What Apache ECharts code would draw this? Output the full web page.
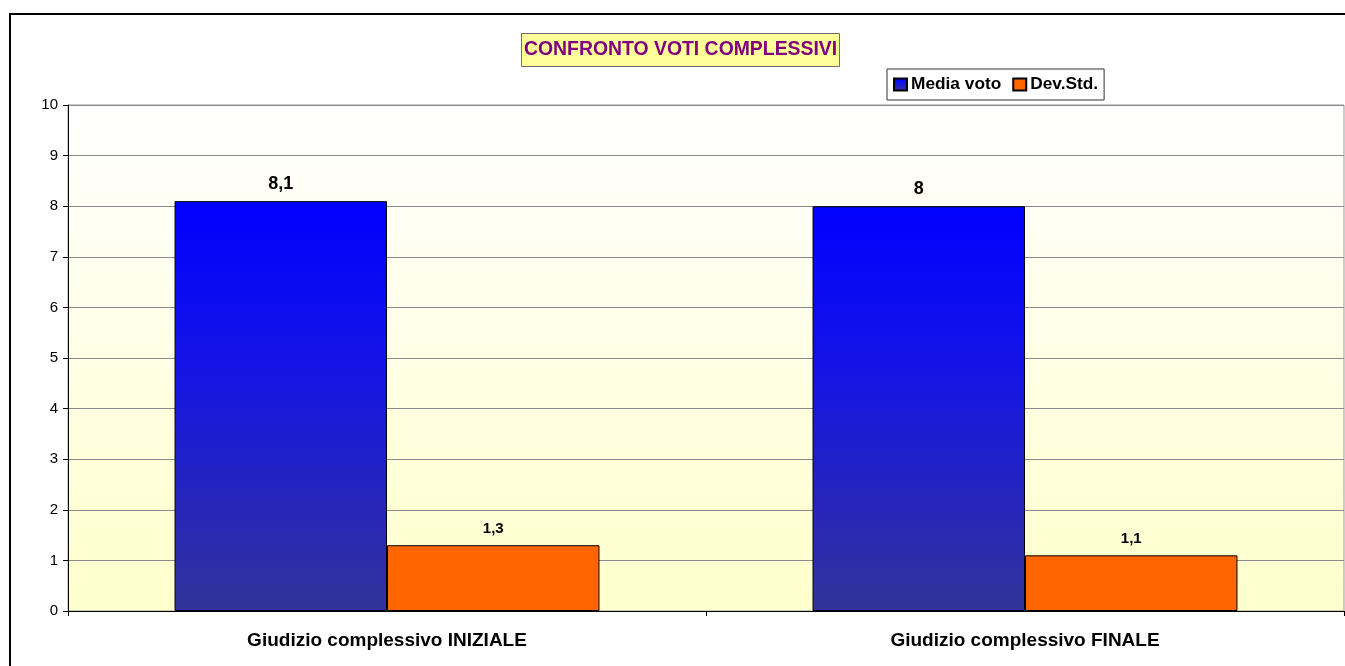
<!DOCTYPE html>
<html>
<head>
<meta charset="utf-8">
<script src="https://cdn.jsdelivr.net/npm/echarts@6/dist/echarts.min.js"></script>
<style>
html,body{margin:0;padding:0;background:#fff;}
#chart{width:1345px;height:666px;}
</style>
</head>
<body>
<div id="chart"></div>
<script>
const categories = ['Giudizio complessivo INIZIALE', 'Giudizio complessivo FINALE'];
const mediaVoto = [8.1, 8];
const devStd = [1.3, 1.1];
const yTicks = [0, 10, 1];

const chart = echarts.init(document.getElementById('chart'));
const fmt = p => String(p.value).replace('.', ',');
const font = 'Arial, "Liberation Sans", sans-serif';

chart.setOption({
  animation: false,
  backgroundColor: '#ffffff',
  textStyle: { fontFamily: font },
  title: {
    text: 'CONFRONTO VOTI COMPLESSIVI',
    left: 521, top: 33,
    padding: [7, 3, 7, 3],
    backgroundColor: '#FFFF99',
    borderColor: '#6f6f6f',
    borderWidth: 1,
    textStyle: { color: '#800080', fontSize: 19.4, lineHeight: 20, fontWeight: 'bold', fontFamily: font }
  },
  legend: {
    left: 887, top: 69,
    padding: [7, 6, 7, 6],
    itemWidth: 13, itemHeight: 12, itemGap: 11,
    icon: 'rect',
    borderColor: '#333', borderWidth: 1,
    backgroundColor: '#fff',
    textStyle: { color: '#000', fontSize: 17.3, fontWeight: 'bold', fontFamily: font, padding: [0, 0, 0, -1] },
    data: ['Media voto', 'Dev.Std.']
  },
  grid: {
    left: 68, right: 1, top: 105, bottom: 55,
    show: true,
    borderColor: '#999', borderWidth: 1,
    backgroundColor: new echarts.graphic.LinearGradient(0, 0, 0, 1, [
      { offset: 0, color: '#FFFFFF' },
      { offset: 1, color: '#FFFFCC' }
    ])
  },
  graphic: [{
    type: 'rect', z: 100, silent: true,
    shape: { x: 10, y: 14, width: 1500, height: 800 },
    style: { fill: 'none', stroke: '#000', lineWidth: 2 }
  }],
  xAxis: {
    type: 'category',
    data: categories,
    axisLine: { lineStyle: { color: '#000', width: 1 } },
    axisTick: { show: true, length: 5, lineStyle: { color: '#000' } },
    axisLabel: { color: '#000', fontSize: 19, fontWeight: 'bold', margin: 20, fontFamily: font }
  },
  yAxis: {
    type: 'value',
    min: yTicks[0], max: yTicks[1], interval: yTicks[2],
    axisLine: { show: true, lineStyle: { color: '#000', width: 1 } },
    axisTick: { show: true, length: 5, lineStyle: { color: '#000' } },
    axisLabel: { color: '#000', fontSize: 15, margin: 10, fontFamily: font },
    splitLine: { lineStyle: { color: '#8a8a8a', width: 1 } }
  },
  series: [{
    name: 'Media voto',
    type: 'bar',
    data: mediaVoto,
    barGap: '0%',
    barCategoryGap: '33.4%',
    itemStyle: {
      color: new echarts.graphic.LinearGradient(0, 0, 0, 1, [
        { offset: 0, color: '#0000FF' },
        { offset: 0.4, color: '#1414E6' },
        { offset: 1, color: '#333399' }
      ]),
      borderColor: '#000', borderWidth: 1
    },
    label: { show: true, position: 'top', distance: 8, formatter: fmt, color: '#000', fontSize: 18, fontWeight: 'bold', fontFamily: font }
  }, {
    name: 'Dev.Std.',
    type: 'bar',
    data: devStd,
    itemStyle: { color: '#FF6600', borderColor: '#000', borderWidth: 1 },
    label: { show: true, position: 'top', distance: 9, formatter: fmt, color: '#000', fontSize: 15, fontWeight: 'bold', fontFamily: font }
  }]
});
</script>
</body>
</html>
